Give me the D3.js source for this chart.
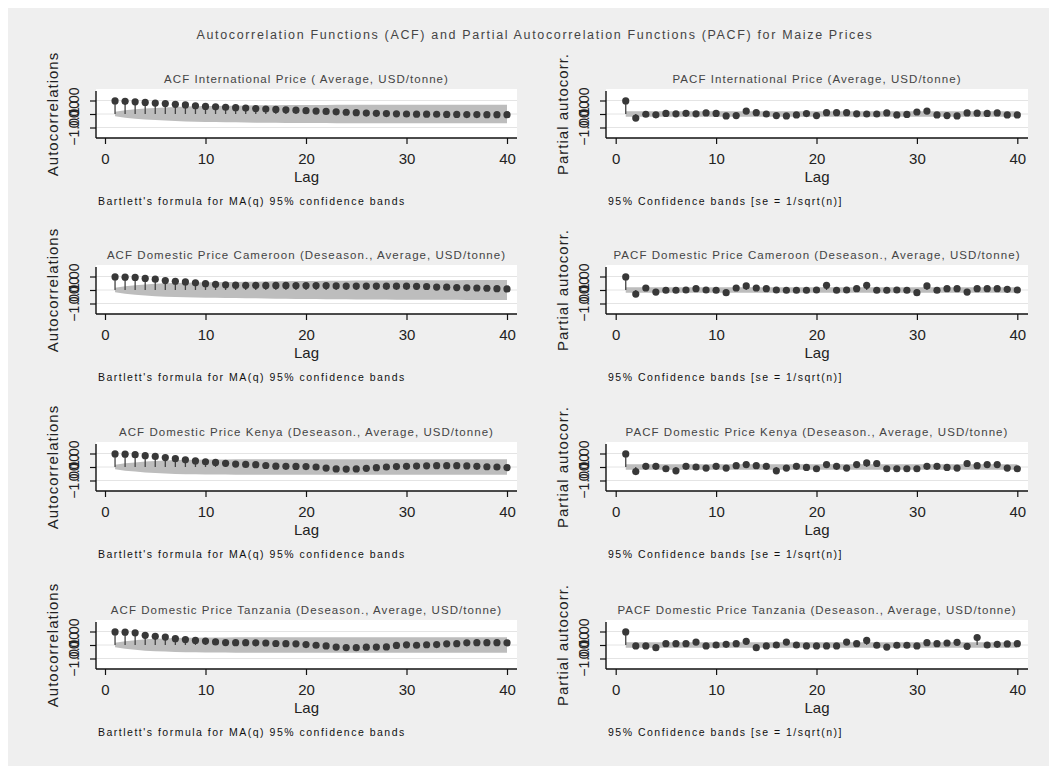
<!DOCTYPE html>
<html lang="en">
<head>
  <meta charset="utf-8">
  <title>ACF and PACF for Maize Prices</title>
  <script src="https://d3js.org/d3.v7.min.js"></script>
  <style>
    body { margin: 0; background: #fff; }
    #chart text { font-family: "Liberation Sans", Arial, sans-serif; fill: #222; }
  </style>
</head>
<body>
  <div id="chart"></div>

  <script>
    "use strict"
    // lags and ticks
    var lags = [1,2,3,4,5,6,7,8,9,10,11,12,13,14,15,16,17,18,19,20,
                21,22,23,24,25,26,27,28,29,30,31,32,33,34,35,36,37,38,39,40];
    var xTicks = [0, 10, 20, 30, 40];
    var yTicks = [-1, 0, 1];

    var mainTitle = "Autocorrelation Functions (ACF) and Partial Autocorrelation Functions (PACF) for Maize Prices";
    var acfTitles = [
      "ACF International Price ( Average, USD/tonne)",
      "ACF Domestic Price Cameroon (Deseason., Average, USD/tonne)",
      "ACF Domestic Price Kenya (Deseason., Average, USD/tonne)",
      "ACF Domestic Price Tanzania (Deseason., Average, USD/tonne)"
    ];
    var pacfTitles = [
      "PACF International Price (Average, USD/tonne)",
      "PACF Domestic Price Cameroon (Deseason., Average, USD/tonne)",
      "PACF Domestic Price Kenya (Deseason., Average, USD/tonne)",
      "PACF Domestic Price Tanzania (Deseason., Average, USD/tonne)"
    ];
    var yTitles = ["Autocorrelations", "Partial autocorr."];
    var notes = ["Bartlett's formula for MA(q) 95% confidence bands", "95% Confidence bands [se = 1/sqrt(n)]"];

    // ACF values
    var acfIntl = [0.97,0.94,0.90,0.86,0.81,0.77,0.72,0.67,0.61,0.56,0.53,0.50,0.47,0.44,0.40,0.37,0.34,0.31,0.28,0.25,
                   0.22,0.19,0.16,0.13,0.10,0.07,0.05,0.03,0.01,0.00,-0.01,-0.01,-0.02,-0.03,-0.03,-0.04,-0.04,-0.05,-0.05,-0.05];
    var acfCmr  = [0.97,0.95,0.93,0.86,0.80,0.70,0.65,0.60,0.53,0.47,0.42,0.38,0.36,0.35,0.35,0.34,0.34,0.34,0.33,0.33,
                   0.33,0.33,0.30,0.29,0.29,0.29,0.29,0.28,0.28,0.28,0.27,0.26,0.22,0.21,0.18,0.16,0.15,0.13,0.10,0.08];
    var acfKen  = [0.97,0.95,0.91,0.84,0.78,0.70,0.62,0.53,0.45,0.39,0.34,0.27,0.22,0.19,0.17,0.11,0.06,0.05,0.04,0.03,
                   0.00,-0.08,-0.14,-0.15,-0.14,-0.10,-0.05,0.00,0.03,0.05,0.07,0.09,0.10,0.10,0.10,0.08,0.05,0.02,0.00,-0.04];
    var acfTza  = [0.97,0.95,0.90,0.72,0.64,0.59,0.47,0.40,0.34,0.29,0.23,0.18,0.17,0.17,0.16,0.15,0.11,0.10,0.09,0.03,
                   -0.02,-0.07,-0.15,-0.19,-0.20,-0.16,-0.15,-0.14,-0.03,0.01,-0.02,0.02,0.03,0.09,0.10,0.16,0.17,0.17,0.17,0.16];

    // Bartlett band half widths
    var bandIntl = [0.17,0.28,0.35,0.41,0.45,0.49,0.52,0.55,0.57,0.59,0.60,0.61,0.62,0.63,0.64,0.65,0.65,0.66,0.66,0.67,
                    0.67,0.67,0.68,0.68,0.68,0.68,0.68,0.68,0.68,0.68,0.68,0.68,0.68,0.68,0.68,0.68,0.68,0.68,0.68,0.68];
    var bandCmr  = [0.17,0.28,0.35,0.41,0.46,0.50,0.52,0.54,0.56,0.57,0.58,0.59,0.60,0.61,0.62,0.63,0.64,0.65,0.66,0.66,
                    0.67,0.68,0.69,0.69,0.70,0.70,0.71,0.71,0.72,0.72,0.72,0.73,0.73,0.73,0.73,0.74,0.74,0.74,0.74,0.74];
    var bandKen  = [0.17,0.27,0.34,0.40,0.45,0.48,0.51,0.53,0.54,0.55,0.56,0.56,0.57,0.57,0.57,0.57,0.57,0.57,0.57,0.58,
                    0.58,0.58,0.58,0.58,0.58,0.58,0.58,0.58,0.58,0.58,0.58,0.58,0.58,0.58,0.58,0.58,0.58,0.58,0.58,0.58];
    var bandTza  = [0.17,0.28,0.36,0.42,0.46,0.49,0.51,0.53,0.54,0.55,0.56,0.56,0.57,0.57,0.57,0.57,0.58,0.58,0.58,0.58,
                    0.58,0.58,0.58,0.58,0.58,0.58,0.58,0.58,0.58,0.58,0.58,0.58,0.58,0.58,0.58,0.58,0.58,0.58,0.58,0.58];

    // PACF values
    var pacfIntl = [0.97,-0.30,-0.02,-0.06,0.04,0.01,0.05,0.01,0.08,0.04,-0.14,-0.12,0.22,0.10,0.00,-0.12,-0.14,-0.07,0.03,-0.12,
                    0.10,0.10,0.10,0.01,0.00,0.00,0.08,-0.07,-0.03,0.15,0.22,-0.07,-0.12,-0.14,0.08,0.06,0.04,0.08,-0.07,-0.07];
    var pacfCmr  = [0.97,-0.30,0.15,-0.15,-0.02,-0.02,0.00,0.10,0.00,-0.02,-0.20,0.15,0.30,0.15,0.10,0.00,-0.02,-0.02,-0.02,0.00,
                    0.35,-0.02,0.00,0.10,0.35,-0.02,-0.02,0.00,-0.02,-0.20,0.30,-0.02,0.10,0.10,-0.15,0.10,0.10,0.10,0.05,0.00];
    var pacfKen  = [0.97,-0.34,0.05,0.05,-0.13,-0.28,0.05,0.00,-0.08,0.05,-0.08,0.10,0.18,0.10,0.05,-0.28,-0.08,0.05,-0.03,-0.13,
                    0.18,0.05,-0.08,0.18,0.30,0.26,-0.13,-0.13,-0.13,-0.13,0.05,0.05,-0.03,-0.08,0.26,0.10,0.18,0.18,-0.08,-0.13];
    var pacfTza  = [0.97,-0.07,-0.07,-0.20,0.10,0.10,0.10,0.22,-0.07,0.00,0.05,0.10,0.27,-0.20,-0.07,0.00,0.22,0.00,-0.07,-0.07,
                    -0.07,-0.07,0.22,0.10,0.34,-0.02,-0.15,-0.02,-0.02,-0.07,0.17,0.10,0.15,0.20,-0.10,0.55,0.00,0.05,0.08,0.10];
    var pacfBand = [0.20, 0.20, 0.20, 0.20];

    var acfSeries = [acfIntl, acfCmr, acfKen, acfTza];
    var acfBands = [bandIntl, bandCmr, bandKen, bandTza];
    var pacfSeries = [pacfIntl, pacfCmr, pacfKen, pacfTza];

    var larguraSVG = 1049, alturaSVG = 766;
    var svg = d3.select("#chart").append("svg")
      .attr("width", larguraSVG)
      .attr("height", alturaSVG);

    svg.append("rect")
      .attr("x", 8).attr("y", 8)
      .attr("width", larguraSVG - 8).attr("height", alturaSVG - 8)
      .attr("fill", "#efefef");

    svg.append("text")
      .attr("x", 535).attr("y", 35)
      .attr("text-anchor", "middle")
      .attr("dominant-baseline", "central")
      .style("font-size", "12.5px")
      .style("letter-spacing", "1.65px")
      .style("fill", "#444")
      .text(mainTitle);

    var rowTop = [89, 265, 442, 620];
    var colLeft = [96, 606], colRight = [517, 1028];
    var colX0 = [105, 615.7], colX40 = [507, 1017.3];

    function desenhaPainel(col, row, valores, banda, titulo) {
      var T = rowTop[row], L = colLeft[col], R = colRight[col];
      var x = d3.scaleLinear().domain([0, 40]).range([colX0[col], colX40[col]]);
      var y = d3.scaleLinear().domain([-1, 1]).range([T + 38.5, T + 11.5]);
      var g = svg.append("g");

      g.append("rect")
        .attr("x", L).attr("y", T)
        .attr("width", R - L).attr("height", 49)
        .attr("fill", "#fff");

      // gridlines
      g.selectAll(".grid").data(yTicks).enter().append("line")
        .attr("x1", L).attr("x2", R)
        .attr("y1", d => y(d)).attr("y2", d => y(d))
        .attr("stroke", "#e4e4e4");

      // confidence band
      var area = d3.area()
        .x((d, i) => x(lags[i]))
        .y0(d => y(-d))
        .y1(d => y(d));
      g.append("path")
        .datum(banda)
        .attr("d", area)
        .attr("fill", "#bdbdbd");

      // spikes
      g.selectAll(".spike").data(valores).enter().append("line")
        .attr("x1", (d, i) => x(lags[i])).attr("x2", (d, i) => x(lags[i]))
        .attr("y1", y(0)).attr("y2", d => y(d))
        .attr("stroke", "#444").attr("stroke-width", 1.3);

      // markers
      g.selectAll(".ponto").data(valores).enter().append("circle")
        .attr("cx", (d, i) => x(lags[i]))
        .attr("cy", d => y(d))
        .attr("r", 3.6)
        .attr("fill", "#383838");

      // axes lines
      g.append("line").attr("x1", L).attr("x2", R).attr("y1", T + 49).attr("y2", T + 49)
        .attr("stroke", "#111").attr("stroke-width", 1.4);
      g.append("line").attr("x1", L).attr("x2", L).attr("y1", T + 2).attr("y2", T + 49)
        .attr("stroke", "#111").attr("stroke-width", 1.4);

      var eixoX = g.append("g")
        .attr("transform", "translate(0," + (T + 49) + ")")
        .call(d3.axisBottom(x).tickValues(xTicks).tickSize(6).tickFormat(d3.format("d")));
      eixoX.select(".domain").remove();
      eixoX.selectAll("line").attr("stroke", "#111").attr("stroke-width", 1.2);
      eixoX.selectAll("text")
        .attr("y", 20).attr("dy", null)
        .attr("dominant-baseline", "central")
        .style("font-size", "15px").style("fill", "#222");

      var eixoY = g.append("g")
        .attr("transform", "translate(" + L + ",0)")
        .call(d3.axisLeft(y).tickValues(yTicks).tickSize(6).tickFormat(d3.format(".2f")));
      eixoY.select(".domain").remove();
      eixoY.selectAll("line").attr("stroke", "#111").attr("stroke-width", 1.2);
      eixoY.selectAll("text")
        .attr("x", null).attr("dy", null)
        .attr("text-anchor", "middle")
        .attr("dominant-baseline", "central")
        .attr("transform", "translate(-22,0) rotate(-90)")
        .style("font-size", "14px").style("fill", "#222");

      // titles
      g.append("text")
        .attr("x", (L + R) / 2).attr("y", T - 10)
        .attr("text-anchor", "middle").attr("dominant-baseline", "central")
        .style("font-size", "11.5px").style("letter-spacing", "1.05px").style("fill", "#444")
        .text(titulo);
      g.append("text")
        .attr("x", (L + R) / 2).attr("y", T + 87)
        .attr("text-anchor", "middle").attr("dominant-baseline", "central")
        .style("font-size", "15px")
        .text("Lag");
      g.append("text")
        .attr("transform", "translate(" + (L - 44) + "," + y(0) + ") rotate(-90)")
        .attr("text-anchor", "middle").attr("dominant-baseline", "central")
        .style("font-size", "15px").style("letter-spacing", "1px")
        .text(yTitles[col]);
      g.append("text")
        .attr("x", L + 2).attr("y", T + 112)
        .attr("dominant-baseline", "central")
        .style("font-size", "10.5px").style("letter-spacing", "1.5px").style("fill", "#111")
        .text(notes[col]);
    }

    for (var r = 0; r < 4; r++) {
      desenhaPainel(0, r, acfSeries[r], acfBands[r], acfTitles[r]);
      var pb = lags.map(() => pacfBand[r]);
      desenhaPainel(1, r, pacfSeries[r], pb, pacfTitles[r]);
    }
  </script>
</body>
</html>
